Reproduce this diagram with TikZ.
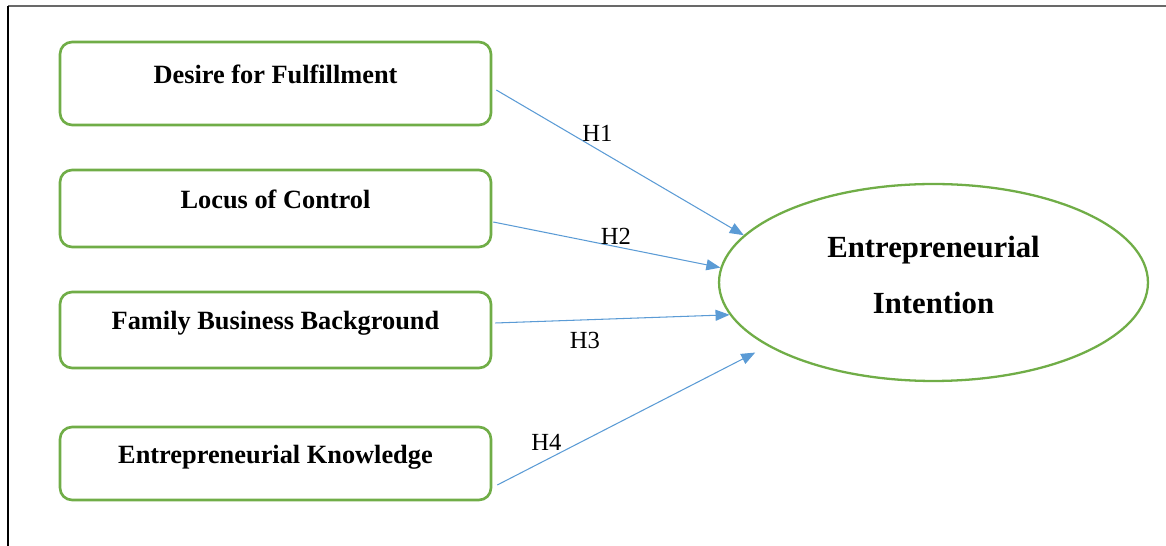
\documentclass[tikz,border=0pt]{standalone}
\usepackage{fontspec}
\setmainfont{Liberation Serif}
\usepackage{xcolor}
\definecolor{modgreen}{RGB}{112, 173, 71}
\definecolor{modblue}{RGB}{91, 155, 213}
\definecolor{modframe}{RGB}{105, 105, 105}
\usetikzlibrary{arrows.meta, shapes.geometric}

\begin{document}
\begin{tikzpicture}[x=0.02cm, y=-0.02cm, >={Triangle[length=0.28cm, width=0.22cm]},
    factor/.style={draw=modgreen, line width=1.5pt, rounded corners=0.24cm,
        minimum width=8.62cm, text height=0.3cm, text depth=0.3cm,
        font=\fontsize{15}{17}\selectfont\bfseries},
    outcome/.style={draw=modgreen, line width=1.3pt, ellipse, minimum width=8.58cm,
        minimum height=3.94cm, align=center, text depth=0.3cm,
        font=\fontsize{17.5}{31.7}\selectfont\bfseries},
    hyp/.style={->, modblue, line width=0.6pt},
    hyplabel/.style={font=\fontsize{14}{16}\selectfont, inner sep=0pt}]

\useasboundingbox (0,0) rectangle (1166,546);

% === Marco ===
\draw[modframe, line width=1.2pt] (1166,6) -- (8,6);
\draw[black, line width=0.6pt] (8,6) -- (8,546);

% === Variables independientes ===
\node[factor, minimum height=1.66cm] (desire) at (275.5,83.5) {Desire for Fulfillment};
\node[factor, minimum height=1.54cm] (locus) at (275.5,208.5) {Locus of Control};
\node[factor, minimum height=1.52cm] (family) at (275.5,330) {Family Business Background};
\node[factor, minimum height=1.46cm] (knowledge) at (275.5,463.5) {Entrepreneurial Knowledge};

% === Variable dependiente ===
\node[outcome] (intent) at (933.5,282.5) {Entrepreneurial\\Intention};

% === Hipotesis ===
\draw[hyp] ([shift={(4,6.5)}]desire.east) -- (intent.166);
\draw[hyp] ([shift={(1,13.5)}]locus.east) -- (intent.176.7);
\draw[hyp] ([shift={(3,-7)}]family.east) -- (intent.189.6);
\draw[hyp, shorten >=0.28cm] ([shift={(5,21.5)}]knowledge.east) -- (intent.201.8);

% Etiquetas
\node[hyplabel] (h1) at (597.5,133.5) {H1};
\node[hyplabel] (h2) at (616,236.5) {H2};
\node[hyplabel] (h3) at (585,340.5) {H3};
\node[hyplabel] (h4) at (546.5,442.5) {H4};

\end{tikzpicture}
\end{document}
